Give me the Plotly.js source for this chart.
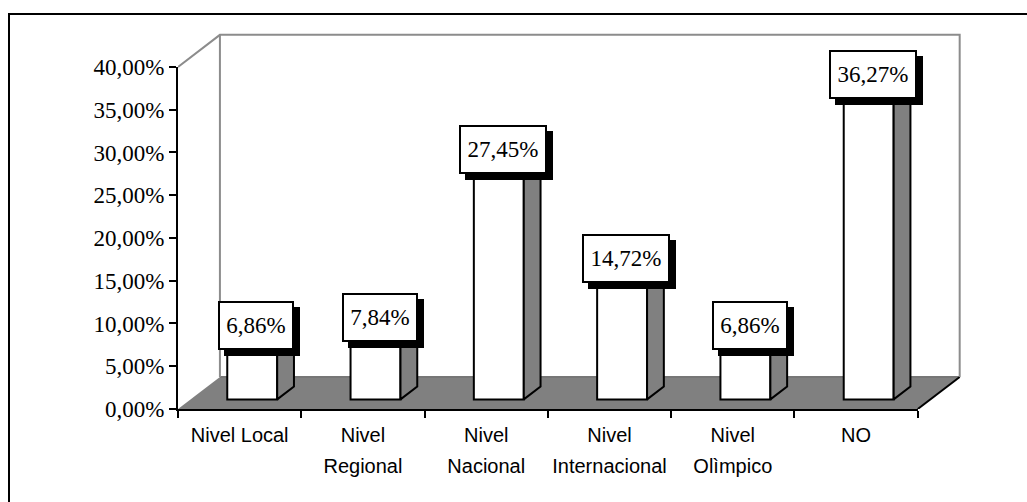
<!DOCTYPE html>
<html>
<head>
<meta charset="utf-8">
<script src="https://cdn.plot.ly/plotly-3.0.1.min.js"></script>
<style>
  html, body { margin: 0; padding: 0; background: #ffffff; overflow: hidden; }
  #chart { position: absolute; left: 0; top: 0; width: 1027px; height: 502px; }
  #frame { position: absolute; left: 8px; top: 13px; width: 1100px; height: 600px;
           border: 2px solid #000000; pointer-events: none; }
</style>
</head>
<body>
<div id="chart"></div>
<div id="frame"></div>
<script>
// Category labels (first and second line) and percentages
const labelLine1 = ['Nivel Local', 'Nivel', 'Nivel', 'Nivel', 'Nivel', 'NO'];
const labelLine2 = ['', 'Regional', 'Nacional', 'Internacional', 'Olìmpico', ''];
const percentages = [6.86, 7.84, 27.45, 14.72, 6.86, 36.27];
const yTicks = [0, 5, 10, 15, 20, 25, 30, 35, 40];

// Pseudo-3D geometry (in data units of the front plane)
const Y_MAX = 40;
const N = percentages.length;
const DEPTH_X = 0.34, DEPTH_Y = 3.75;   // full depth of the floor / wall
const PAD_X = 0.035, PAD_Y = 0.45;      // keeps wall edge lines inside the clip
const BAR_W = 0.405;                    // bar width in categories
const BAR_FRONT = 0.3, BAR_DEPTH = 0.4; // bar position inside the depth
const LABEL_DEPTH = 0.4;

// Pixel frame of the front plane
const W = 1027, H = 502;
const LEFT = 178, BOTTOM = 93;
const PX_X = 740 / N, PX_Y = 342 / Y_MAX;
const X2_MAX = N + DEPTH_X + PAD_X, Y2_MAX = Y_MAX + DEPTH_Y + PAD_Y;
const plotW = PX_X * X2_MAX, plotH = PX_Y * Y2_MAX;

const fmt = v => v.toFixed(2).replace('.', ',') + '%';

const centers = percentages.map((_, i) => i + 0.5);
const boundaries = percentages.map((_, i) => i).concat([N]);
const fx = BAR_FRONT * DEPTH_X, fy = BAR_FRONT * DEPTH_Y;
const bx = BAR_DEPTH * DEPTH_X, by = BAR_DEPTH * DEPTH_Y;

// Front faces of the bars
const fronts = {
  type: 'bar', xaxis: 'x2', yaxis: 'y2',
  x: centers.map(c => c + fx), y: percentages, base: percentages.map(() => fy),
  width: BAR_W,
  marker: { color: '#ffffff', line: { color: '#000000', width: 2 } },
  hoverinfo: 'skip', showlegend: false
};

// Right-hand side faces and top faces
const sx = [], sy = [], tx = [], ty = [];
percentages.forEach((v, i) => {
  const xl = centers[i] + fx - BAR_W / 2, xr = centers[i] + fx + BAR_W / 2;
  const b = fy, t = fy + v;
  sx.push(xr, xr + bx, xr + bx, xr, xr, null);
  sy.push(b, b + by, t + by, t, b, null);
  tx.push(xl, xr, xr + bx, xl + bx, xl, null);
  ty.push(t, t, t + by, t + by, t, null);
});
const sides = {
  type: 'scatter', mode: 'lines', xaxis: 'x2', yaxis: 'y2', x: sx, y: sy,
  fill: 'toself', fillcolor: '#808080', line: { color: '#000000', width: 2 },
  hoverinfo: 'skip', showlegend: false
};
const tops = {
  type: 'scatter', mode: 'lines', xaxis: 'x2', yaxis: 'y2', x: tx, y: ty,
  fill: 'toself', fillcolor: '#ffffff', line: { color: '#000000', width: 2 },
  hoverinfo: 'skip', showlegend: false
};
// Empty traces that keep the front axes alive
const emptyOn = xa => ({ type: 'scatter', x: [], y: [], xaxis: xa, yaxis: 'y',
                         hoverinfo: 'skip', showlegend: false });

const wallColor = '#8c8c8c';
const shapes = [
  // floor
  { type: 'path', xref: 'x2', yref: 'y2', layer: 'below',
    path: `M0,0 L${N},0 L${N + DEPTH_X},${DEPTH_Y} L${DEPTH_X},${DEPTH_Y} Z`,
    fillcolor: '#808080', line: { width: 0 } },
  { type: 'line', xref: 'x2', yref: 'y2', layer: 'below',
    x0: DEPTH_X, y0: DEPTH_Y, x1: N + DEPTH_X, y1: DEPTH_Y,
    line: { color: '#767676', width: 2 } },
  { type: 'line', xref: 'x2', yref: 'y2', layer: 'below',
    x0: N, y0: 0, x1: N + DEPTH_X, y1: DEPTH_Y,
    line: { color: '#000000', width: 2 } },
  // back and side walls
  { type: 'path', xref: 'x2', yref: 'y2', layer: 'below',
    path: `M0,${Y_MAX} L${DEPTH_X},${Y_MAX + DEPTH_Y} L${N + DEPTH_X},${Y_MAX + DEPTH_Y} L${N + DEPTH_X},${DEPTH_Y}`,
    line: { color: wallColor, width: 2 } },
  { type: 'line', xref: 'x2', yref: 'y2', layer: 'below',
    x0: DEPTH_X, y0: DEPTH_Y, x1: DEPTH_X, y1: Y_MAX + DEPTH_Y,
    line: { color: wallColor, width: 2 } }
];

// Value labels in framed boxes with a drop shadow
const serif = 'Liberation Serif, Times New Roman, serif';
const labelFont = { family: serif, size: 23, color: '#000000' };
const CHAR_W = 12;  // box width per character of the label
const annotations = [];
const boxStyle = { xref: 'x2', yref: 'y2', xanchor: 'center', yanchor: 'bottom',
                   showarrow: false, height: 33, borderpad: 6, borderwidth: 2,
                   bordercolor: '#000000', font: labelFont };
percentages.forEach((v, i) => {
  annotations.push(Object.assign({}, boxStyle, {
    x: centers[i] + LABEL_DEPTH * DEPTH_X, y: v, text: ' ',
    width: CHAR_W * fmt(v).length, xshift: 6, yshift: -6, bgcolor: '#000000'
  }));
});
percentages.forEach((v, i) => {
  annotations.push(Object.assign({}, boxStyle, {
    x: centers[i] + LABEL_DEPTH * DEPTH_X, y: v, text: fmt(v),
    width: CHAR_W * fmt(v).length, bgcolor: '#ffffff'
  }));
});

const catFont = { family: 'Liberation Sans, Arial, sans-serif', size: 20, color: '#000000' };
const labelAxis = (text, standoff) => ({
  overlaying: 'x', anchor: 'y', side: 'bottom', range: [0, N],
  tickmode: 'array', tickvals: centers, ticktext: text, tickangle: 0,
  ticks: '', ticklabelstandoff: standoff, showline: false,
  showgrid: false, zeroline: false, fixedrange: true, tickfont: catFont
});

const layout = {
  width: W, height: H,
  margin: { l: LEFT, b: BOTTOM, r: W - LEFT - plotW, t: H - BOTTOM - plotH, pad: 0 },
  paper_bgcolor: 'rgba(0,0,0,0)', plot_bgcolor: 'rgba(0,0,0,0)',
  showlegend: false,
  xaxis: {
    domain: [0, N / X2_MAX], range: [0, N], anchor: 'y',
    tickmode: 'array', tickvals: boundaries, ticktext: boundaries.map(() => ''),
    ticks: 'outside', ticklen: 7, tickwidth: 2, tickcolor: '#000000',
    showline: true, linecolor: '#000000', linewidth: 2,
    showgrid: false, zeroline: false, fixedrange: true, tickfont: catFont
  },
  xaxis3: labelAxis(labelLine1, 12),
  xaxis4: labelAxis(labelLine2, 43),
  yaxis: {
    domain: [0, Y_MAX / Y2_MAX], range: [0, Y_MAX], anchor: 'x',
    tickmode: 'array', tickvals: yTicks, ticktext: yTicks.map(fmt),
    ticks: 'outside', ticklen: 7, tickwidth: 2, tickcolor: '#000000',
    showline: true, linecolor: '#000000', linewidth: 2,
    showgrid: false, zeroline: false, fixedrange: true,
    tickfont: { family: serif, size: 23, color: '#000000' }
  },
  xaxis2: { domain: [0, 1], range: [0, X2_MAX], anchor: 'y2', visible: false, fixedrange: true },
  yaxis2: { domain: [0, 1], range: [0, Y2_MAX], anchor: 'x2', visible: false, fixedrange: true },
  shapes: shapes,
  annotations: annotations
};

Plotly.newPlot('chart', [emptyOn('x'), emptyOn('x3'), emptyOn('x4'), fronts, sides, tops], layout,
               { displayModeBar: false, staticPlot: true });
</script>
</body>
</html>
